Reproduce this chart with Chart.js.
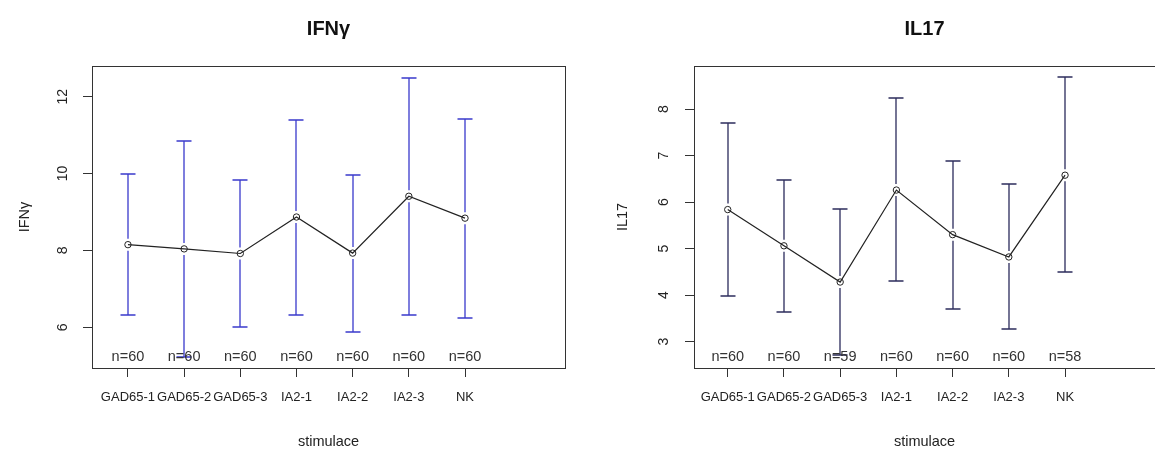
<!DOCTYPE html>
<html>
<head>
<meta charset="utf-8">
<script src="https://cdn.jsdelivr.net/npm/chart.js@4.4.0/dist/chart.umd.min.js"></script>
<style>
  html, body { margin: 0; padding: 0; background: #fff; overflow: hidden; }
  body { width: 1155px; height: 453px; position: relative; }
  .panel { position: absolute; top: 0; height: 453px; }
  #leftPanel { left: 0; width: 578px; }
  #rightPanel { left: 578px; width: 582px; }
</style>
</head>
<body>
<div class="panel" id="leftPanel"><canvas id="ifnChart"></canvas></div>
<div class="panel" id="rightPanel"><canvas id="il17Chart"></canvas></div>
<script>
const stimuli = ['GAD65-1', 'GAD65-2', 'GAD65-3', 'IA2-1', 'IA2-2', 'IA2-3', 'NK'];

const ifnMean  = [8.15, 8.04, 7.92, 8.87, 7.93, 9.41, 8.84];
const ifnLower = [6.33, 5.22, 6.01, 6.32, 5.88, 6.33, 6.23];
const ifnUpper = [9.99, 10.86, 9.83, 11.40, 9.97, 12.49, 11.43];
const ifnN     = [60, 60, 60, 60, 60, 60, 60];
const ifnTicks = [6, 8, 10, 12];

const il17Mean  = [5.84, 5.06, 4.28, 6.26, 5.30, 4.82, 6.58];
const il17Lower = [3.99, 3.64, 2.70, 4.30, 3.71, 3.26, 4.49];
const il17Upper = [7.71, 6.48, 5.86, 8.24, 6.89, 6.38, 8.69];
const il17N     = [60, 60, 59, 60, 60, 60, 58];
const il17Ticks = [3, 4, 5, 6, 7, 8];

const FONT = "'Liberation Sans', Arial, sans-serif";
const TEXT = '#222';

// error bars, n= labels, y tick labels, box and title (R plotmeans look)
function plotmeansPlugin(cfg) {
  return {
    id: 'plotmeans',
    afterDatasetsDraw(chart) {
      const { ctx, chartArea: a, scales: { x, y } } = chart;
      ctx.save();
      ctx.strokeStyle = cfg.barColor;
      ctx.lineWidth = 1.3;
      for (let i = 0; i < cfg.mean.length; i++) {
        const px = Math.round(x.getPixelForValue(i + 1));
        const yl = Math.round(y.getPixelForValue(cfg.lower[i]));
        const yu = Math.round(y.getPixelForValue(cfg.upper[i]));
        const ym = y.getPixelForValue(cfg.mean[i]);
        ctx.beginPath();
        ctx.moveTo(px, yu); ctx.lineTo(px, ym - 6);
        ctx.moveTo(px, ym + 6); ctx.lineTo(px, yl);
        ctx.moveTo(px - 7.5, yu); ctx.lineTo(px + 7.5, yu);
        ctx.moveTo(px - 7.5, yl); ctx.lineTo(px + 7.5, yl);
        ctx.stroke();
      }
      ctx.fillStyle = '#333';
      ctx.font = '14.5px ' + FONT;
      ctx.textAlign = 'center';
      ctx.textBaseline = 'middle';
      cfg.n.forEach((n, i) => {
        ctx.fillText('n=' + n, x.getPixelForValue(i + 1), a.bottom - 11);
      });
      // y tick labels, turned like R's default
      ctx.fillStyle = TEXT;
      ctx.font = '14px ' + FONT;
      cfg.ticks.forEach(v => {
        ctx.save();
        ctx.translate(a.left - cfg.labelGap, y.getPixelForValue(v));
        ctx.rotate(-Math.PI / 2);
        ctx.fillText(String(v), 0, 0);
        ctx.restore();
      });
      ctx.lineWidth = 1;
      ctx.strokeStyle = '#333';
      ctx.strokeRect(Math.round(a.left) + 0.5, Math.round(a.top) + 0.5, Math.round(a.width), Math.round(a.height));
      ctx.fillStyle = '#111';
      ctx.font = 'bold 20px ' + FONT;
      ctx.fillText(cfg.title, (a.left + a.right) / 2, 29);
      ctx.restore();
    }
  };
}

function makeChart(canvasId, cfg) {
  const ctx = document.getElementById(canvasId).getContext('2d');
  return new Chart(ctx, {
    type: 'line',
    data: {
      datasets: [{
        data: cfg.mean.map((v, i) => ({ x: i + 1, y: v })),
        borderColor: '#222',
        borderWidth: 1.2,
        pointRadius: 3.2,
        pointBorderWidth: 1,
        pointBorderColor: '#222',
        pointBackgroundColor: 'rgba(255,255,255,0)',
        tension: 0
      }]
    },
    options: {
      responsive: true,
      maintainAspectRatio: false,
      animation: false,
      events: [],
      layout: { padding: { top: 66, right: cfg.padRight, bottom: 0, left: 0 } },
      plugins: { legend: { display: false }, tooltip: { enabled: false } },
      scales: {
        x: {
          type: 'linear',
          min: cfg.xMin, max: cfg.xMax,
          afterBuildTicks: s => { s.ticks = stimuli.map((c, i) => ({ value: i + 1 })); },
          afterFit: s => { s.height = 85; },
          border: { display: false },
          grid: { drawOnChartArea: false, drawTicks: true, tickLength: 9, color: '#333' },
          ticks: {
            autoSkip: false, maxRotation: 0, minRotation: 0, padding: 13,
            color: TEXT, font: { family: FONT, size: 13 },
            callback: v => stimuli[v - 1]
          },
          title: { display: true, text: 'stimulace', color: TEXT, font: { family: FONT, size: 14.5 }, padding: { top: 0, bottom: 2 } }
        },
        y: {
          min: cfg.yMin, max: cfg.yMax,
          afterBuildTicks: s => { s.ticks = cfg.ticks.map(v => ({ value: v })); },
          afterFit: s => { s.width = cfg.yWidth; },
          border: { display: false },
          grid: { drawOnChartArea: false, drawTicks: true, tickLength: 9, color: '#333' },
          ticks: { display: false },
          title: { display: true, text: cfg.title, color: TEXT, font: { family: FONT, size: 14.5 }, padding: { top: cfg.titlePad, bottom: 0 } }
        }
      }
    },
    plugins: [plotmeansPlugin(cfg)]
  });
}

makeChart('ifnChart', {
  title: 'IFNγ', mean: ifnMean, lower: ifnLower, upper: ifnUpper, n: ifnN, ticks: ifnTicks,
  barColor: '#3a3acc', xMin: 0.36, xMax: 8.78, yMin: 4.94, yMax: 12.8,
  yWidth: 92, padRight: 13, labelGap: 29, titlePad: 16
});

makeChart('il17Chart', {
  title: 'IL17', mean: il17Mean, lower: il17Lower, upper: il17Upper, n: il17N, ticks: il17Ticks,
  barColor: '#2c2c5c', xMin: 0.40, xMax: 8.60, yMin: 2.43, yMax: 8.93,
  yWidth: 116, padRight: 0, labelGap: 30, titlePad: 36
});
</script>
</body>
</html>
